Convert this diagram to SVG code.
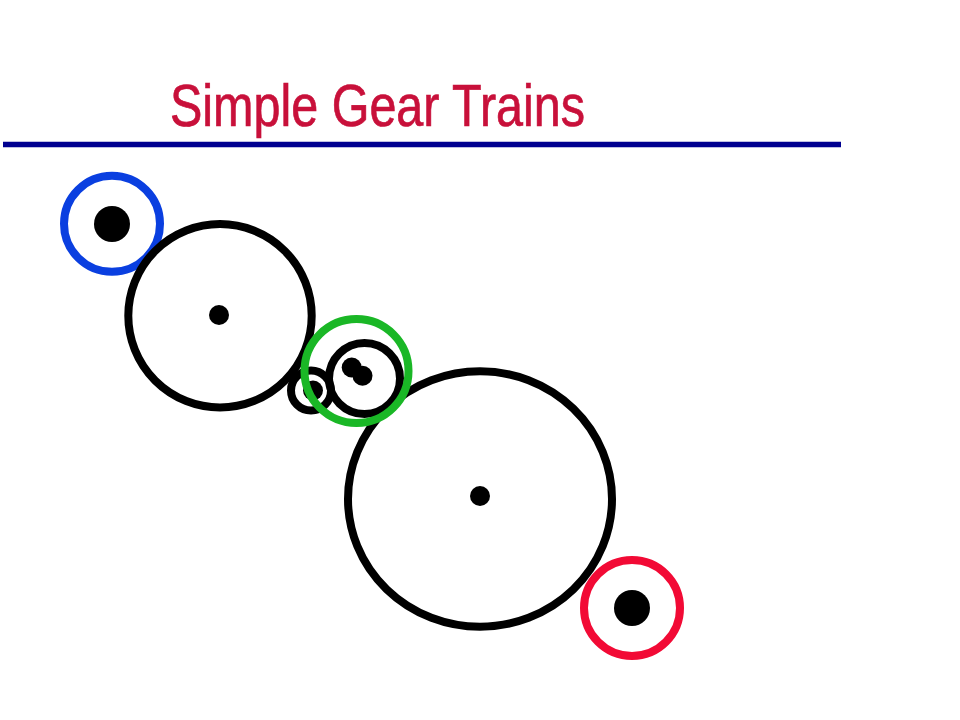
<svg xmlns="http://www.w3.org/2000/svg" width="960" height="720" viewBox="0 0 960 720">
<style>
.k{fill:none;stroke:#000;stroke-width:8}
.d{fill:#000}
.r{fill:none;stroke-width:8}
</style>
<rect width="960" height="720" fill="#fff"/>
<text x="170" y="125.500" font-family="'Liberation Sans',Arial,sans-serif" font-size="59" fill="#c8103a" stroke="#c8103a" stroke-width="0.7" textLength="415" lengthAdjust="spacingAndGlyphs">Simple Gear Trains</text>
<line x1="3" y1="144.500" x2="841" y2="144.500" stroke="#000090" stroke-width="5.500"/>
<g id="ring-blue"><circle class="r" cx="112" cy="223.800" r="48" stroke="#0a3fe0"/><circle class="d" cx="112" cy="224" r="18"/></g>
<g id="ring-red"><circle class="r" cx="632" cy="608" r="48" stroke="#f20a35"/><circle class="d" cx="632" cy="608" r="18"/></g>
<g id="gear-large-1"><circle class="k" cx="220" cy="315.800" r="91.700"/><circle class="d" cx="219" cy="315" r="10"/></g>
<g id="gear-large-2"><ellipse class="k" cx="480" cy="499" rx="132" ry="127.700"/><circle class="d" cx="480" cy="496" r="10"/></g>
<g id="gear-small"><circle class="k" cx="311" cy="390.500" r="20"/><circle class="d" cx="313" cy="390.500" r="10"/></g>
<g id="gear-mid"><circle class="k" cx="364.500" cy="378.500" r="35.500"/><circle class="d" cx="351.700" cy="367.500" r="10"/><circle class="d" cx="362.500" cy="375.700" r="10"/></g>
<g id="ring-green"><circle class="r" cx="356.500" cy="371" r="52" stroke="#1ab726"/></g>
</svg>
